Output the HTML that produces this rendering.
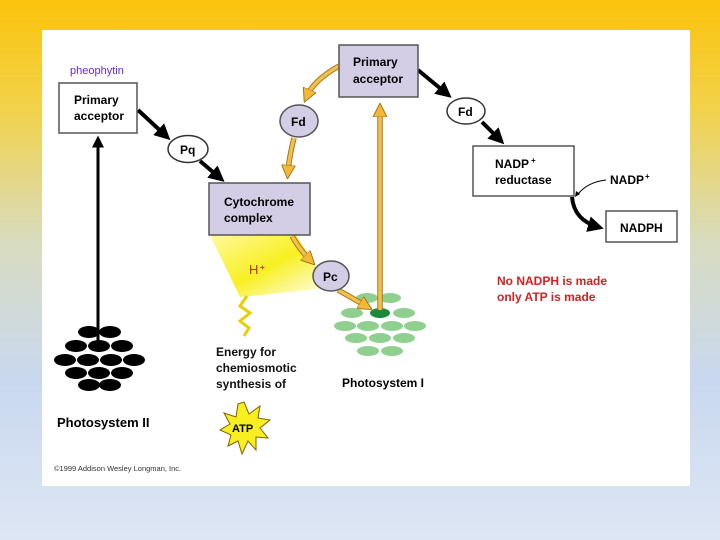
<!DOCTYPE html>
<html><head><style>
body{margin:0;width:720px;height:540px;overflow:hidden;background:linear-gradient(#fbc30c 0%,#f2d24a 20%,#d8dcc0 45%,#c9d8ef 70%,#dde6f4 100%);font-family:"Liberation Sans",Arial,sans-serif}
svg{position:absolute;left:0;top:0}
</style></head><body>
<svg width="720" height="540" viewBox="0 0 720 540" font-family="Liberation Sans, Arial, sans-serif" font-weight="bold">
<defs>
<marker id="bk" markerWidth="4" markerHeight="4" refX="2.5" refY="2" orient="auto" markerUnits="strokeWidth"><path d="M0,0 L4,2 L0,4 z" fill="#000"/></marker>
<marker id="yl" markerWidth="4" markerHeight="4" refX="2" refY="2" orient="auto" markerUnits="strokeWidth"><path d="M0,0 L4,2 L0,4 z" fill="#f2b838" stroke="#9a6a10" stroke-width="0.25"/></marker>
<linearGradient id="hg" x1="0" y1="0" x2="1" y2="1"><stop offset="0" stop-color="#fff9a0"/><stop offset="0.5" stop-color="#f8f020"/><stop offset="1" stop-color="#ffffff"/></linearGradient>
</defs>
<rect x="42" y="30" width="648" height="456" fill="#fff"/>
<polygon points="210,235 296,235 330,288 240,297" fill="url(#hg)"/>
<text x="249" y="274" fill="#c0301a" font-size="13" font-weight="normal">H</text><text x="260" y="270" fill="#c0301a" font-size="8">+</text>
<polyline points="247,296 240,306 250,313 240,321 249,328 244,336" fill="none" stroke="#e8d000" stroke-width="3"/>
<g fill="#000">
<ellipse cx="89" cy="332" rx="11" ry="6"/><ellipse cx="110" cy="332" rx="11" ry="6"/>
<ellipse cx="76" cy="346" rx="11" ry="6"/><ellipse cx="99" cy="346" rx="11" ry="6"/><ellipse cx="122" cy="346" rx="11" ry="6"/>
<ellipse cx="65" cy="360" rx="11" ry="6"/><ellipse cx="88" cy="360" rx="11" ry="6"/><ellipse cx="111" cy="360" rx="11" ry="6"/><ellipse cx="134" cy="360" rx="11" ry="6"/>
<ellipse cx="76" cy="373" rx="11" ry="6"/><ellipse cx="99" cy="373" rx="11" ry="6"/><ellipse cx="122" cy="373" rx="11" ry="6"/>
<ellipse cx="89" cy="385" rx="11" ry="6"/><ellipse cx="110" cy="385" rx="11" ry="6"/>
</g>
<line x1="98" y1="342" x2="98" y2="140" stroke="#000" stroke-width="3" marker-end="url(#bk)"/>
<text x="57" y="427" font-size="13">Photosystem II</text>
<text x="54" y="471" font-size="7.5" font-weight="normal" fill="#333">©1999 Addison Wesley Longman, Inc.</text>
<g fill="#8fd08f">
<ellipse cx="367" cy="298" rx="11" ry="5"/><ellipse cx="390" cy="298" rx="11" ry="5"/>
<ellipse cx="352" cy="313" rx="11" ry="5"/><ellipse cx="404" cy="313" rx="11" ry="5"/>
<ellipse cx="345" cy="326" rx="11" ry="5"/><ellipse cx="368" cy="326" rx="11" ry="5"/><ellipse cx="392" cy="326" rx="11" ry="5"/><ellipse cx="415" cy="326" rx="11" ry="5"/>
<ellipse cx="356" cy="338" rx="11" ry="5"/><ellipse cx="380" cy="338" rx="11" ry="5"/><ellipse cx="404" cy="338" rx="11" ry="5"/>
<ellipse cx="368" cy="351" rx="11" ry="5"/><ellipse cx="392" cy="351" rx="11" ry="5"/>
</g>
<ellipse cx="380" cy="313" rx="10" ry="5" fill="#1a8a3a"/>
<text x="342" y="387" font-size="12">Photosystem I</text>
<!-- yellow arrows: underlay -->
<g stroke="#a87818" stroke-width="5.5" fill="none">
<line x1="380" y1="310" x2="380" y2="112"/>
<path d="M339,66 Q314,80 307,96"/>
<path d="M294,138 Q289,158 288,172"/>
<path d="M292,236 Q300,250 310,260"/>
<path d="M338,290 Q354,299 366,306"/>
</g>
<g stroke="#f2c050" stroke-width="3.5" fill="none">
<line x1="380" y1="310" x2="380" y2="110" marker-end="url(#yl)"/>
<path d="M339,66 Q314,80 307,96" marker-end="url(#yl)"/>
<path d="M294,138 Q289,158 288,172" marker-end="url(#yl)"/>
<path d="M292,236 Q300,250 310,260" marker-end="url(#yl)"/>
<path d="M338,290 Q354,299 366,306" marker-end="url(#yl)"/>
</g>
<line x1="138" y1="110" x2="166" y2="136" stroke="#000" stroke-width="4" marker-end="url(#bk)"/>
<line x1="200" y1="161" x2="220" y2="178" stroke="#000" stroke-width="4" marker-end="url(#bk)"/>
<line x1="418" y1="70" x2="447" y2="94" stroke="#000" stroke-width="4" marker-end="url(#bk)"/>
<line x1="482" y1="122" x2="500" y2="140" stroke="#000" stroke-width="4" marker-end="url(#bk)"/>
<path d="M572,197 Q574,220 598,227" fill="none" stroke="#000" stroke-width="4" marker-end="url(#bk)"/>
<path d="M606,180 Q588,182 578,194" fill="none" stroke="#000" stroke-width="1"/>
<path d="M575,197 l1,-6 l4,3 z" fill="#000"/>
<rect x="59" y="83" width="78" height="50" fill="#fff" stroke="#555" stroke-width="1.5"/>
<text x="74" y="104" font-size="12">Primary</text><text x="74" y="120" font-size="12">acceptor</text>
<text x="70" y="74" font-size="11" font-weight="normal" fill="#6a2ad0">pheophytin</text>
<rect x="339" y="45" width="79" height="52" fill="#d4cde6" stroke="#555" stroke-width="1.5"/>
<text x="353" y="66" font-size="12">Primary</text><text x="353" y="83" font-size="12">acceptor</text>
<rect x="209" y="183" width="101" height="52" fill="#d4cde6" stroke="#555" stroke-width="1.5"/>
<text x="224" y="206" font-size="12">Cytochrome</text><text x="224" y="222" font-size="12">complex</text>
<rect x="473" y="146" width="101" height="50" fill="#fff" stroke="#555" stroke-width="1.5"/>
<text x="495" y="168" font-size="12">NADP</text><text x="531" y="163" font-size="8">+</text><text x="495" y="184" font-size="12">reductase</text>
<rect x="606" y="211" width="71" height="31" fill="#fff" stroke="#555" stroke-width="1.5"/>
<text x="620" y="232" font-size="12">NADPH</text>
<text x="610" y="184" font-size="12">NADP</text><text x="645" y="179" font-size="8">+</text>
<ellipse cx="188" cy="149" rx="20" ry="13.5" fill="#fff" stroke="#333" stroke-width="1.5"/><text x="180" y="154" font-size="12">Pq</text>
<ellipse cx="299" cy="121" rx="19" ry="16" fill="#d4cde6" stroke="#555" stroke-width="1.5"/><text x="291" y="126" font-size="12">Fd</text>
<ellipse cx="331" cy="276" rx="18" ry="15" fill="#d4cde6" stroke="#555" stroke-width="1.5"/><text x="323" y="281" font-size="12">Pc</text>
<ellipse cx="466" cy="111" rx="19" ry="13" fill="#fff" stroke="#333" stroke-width="1.5"/><text x="458" y="116" font-size="12">Fd</text>
<text font-size="12" fill="#111"><tspan x="216" y="356">Energy for</tspan><tspan x="216" y="372">chemiosmotic</tspan><tspan x="216" y="388">synthesis of</tspan></text>
<polygon points="244,402 249,414 260,406 258,418 270,420 260,428 268,438 256,437 256,450 248,441 242,454 238,441 228,446 231,435 220,430 230,424 224,413 236,417 238,404" fill="#f8ef20" stroke="#806000" stroke-width="1"/>
<text x="232" y="432" font-size="11">ATP</text>
<text x="497" y="285" font-size="12" fill="#d42020">No NADPH is made</text>
<text x="497" y="301" font-size="12" fill="#d42020">only ATP is made</text>
</svg>
</body></html>
